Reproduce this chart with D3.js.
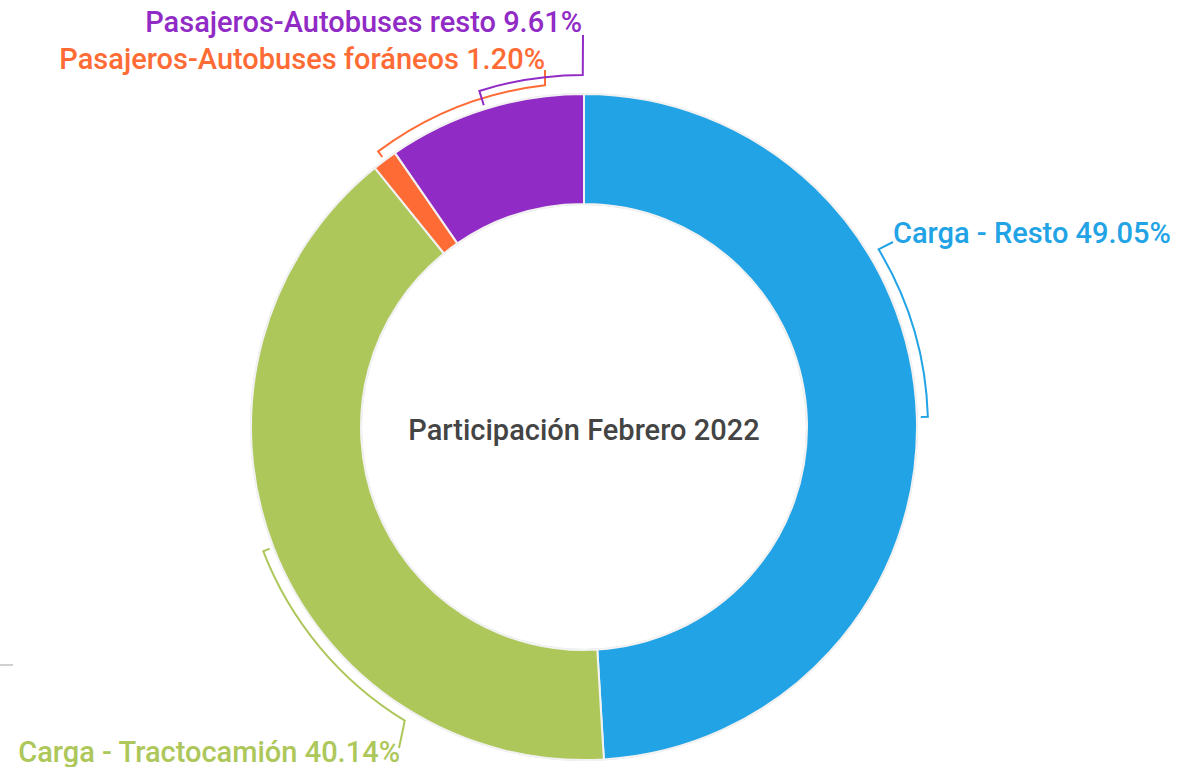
<!DOCTYPE html>
<html>
<head>
<meta charset="utf-8">
<script src="https://cdn.jsdelivr.net/npm/d3@7"></script>
<style>
  html, body { margin: 0; padding: 0; background: #fff; }
  svg { display: block; }
  text { font-family: Roboto, "Noto Sans", sans-serif; }
</style>
</head>
<body>
<svg id="chart" width="1196" height="767"></svg>
<script>
const categories = ["Carga - Resto", "Carga - Tractocamión", "Pasajeros-Autobuses foráneos", "Pasajeros-Autobuses resto"];
const values = [49.05, 40.14, 1.20, 9.61];
const colors = ["#21A3E5", "#ADC75A", "#FF6B35", "#912BC6"];
const centerTitle = "Participación Febrero 2022";

const W = 1196, H = 767;
const cx = 584, cy = 427;
const outerR = 333, innerR = 223;

// label layout (bracket radius, bracket end angle in degrees from top, label anchor)
const labelLayout = [
  { rb: 344, endDeg: 58.9, lx: 893, ly: 243, conn: [893, 242], anchor: "start" },
  { rb: 344, endDeg: 211.4, lx: 400, ly: 762, conn: [399, 748], anchor: "end" },
  { rb: 344, endDeg: 353.5, lx: 545, ly: 69, conn: [545, 70], anchor: "end" },
  { rb: 352, endDeg: 359.8, lx: 582, ly: 32, conn: [583, 35], anchor: "end" }
];

const svg = d3.select("#chart");
const g = svg.append("g").attr("transform", `translate(${cx},${cy})`);

const data = categories.map((c, i) => ({ name: c, value: values[i], color: colors[i], i }));
const pie = d3.pie().value(d => d.value).sort(null);
const arcs = pie(data);
const arc = d3.arc().innerRadius(innerR).outerRadius(outerR);

// faint outer halo
g.append("circle").attr("r", outerR + 0.5).attr("fill", "none").attr("stroke", "#e2e2e2").attr("stroke-width", 1);
g.append("circle").attr("r", innerR - 0.5).attr("fill", "none").attr("stroke", "#e2e2e2").attr("stroke-width", 1);

g.selectAll("path.slice").data(arcs).enter().append("path")
  .attr("class", "slice")
  .attr("d", arc)
  .attr("fill", d => d.data.color)
  .attr("stroke", "#f2f2f2")
  .attr("stroke-width", 2);

const fmt = d3.format(".2f");
const rad = deg => deg * Math.PI / 180;

arcs.forEach((a, i) => {
  const L = labelLayout[i];
  const mid = (a.startAngle + a.endAngle) / 2; // radians from top, clockwise
  const end = rad(L.endDeg);
  const tickIn = outerR + 4;
  const p = d3.path();
  p.moveTo(tickIn * Math.sin(mid), -tickIn * Math.cos(mid));
  p.lineTo(L.rb * Math.sin(mid), -L.rb * Math.cos(mid));
  p.arc(0, 0, L.rb, mid - Math.PI / 2, end - Math.PI / 2, end < mid);
  p.lineTo(L.conn[0] - cx, L.conn[1] - cy);
  g.append("path").attr("d", p.toString())
    .attr("fill", "none").attr("stroke", a.data.color).attr("stroke-width", 2);

  svg.append("text")
    .attr("x", L.lx).attr("y", L.ly)
    .attr("text-anchor", L.anchor)
    .attr("fill", a.data.color)
    .attr("font-size", 29)
    .attr("font-weight", 500)
    .text(`${a.data.name} ${fmt(a.data.value)}%`);
});

svg.append("text")
  .attr("x", cx).attr("y", cy + 13)
  .attr("text-anchor", "middle")
  .attr("fill", "#444")
  .attr("font-size", 29)
  .attr("font-weight", 500)
  .text(centerTitle);

// small gray stub at left edge
svg.append("line").attr("x1", 0).attr("x2", 13).attr("y1", 665).attr("y2", 665)
  .attr("stroke", "#d0d0d0").attr("stroke-width", 2);
</script>
</body>
</html>
